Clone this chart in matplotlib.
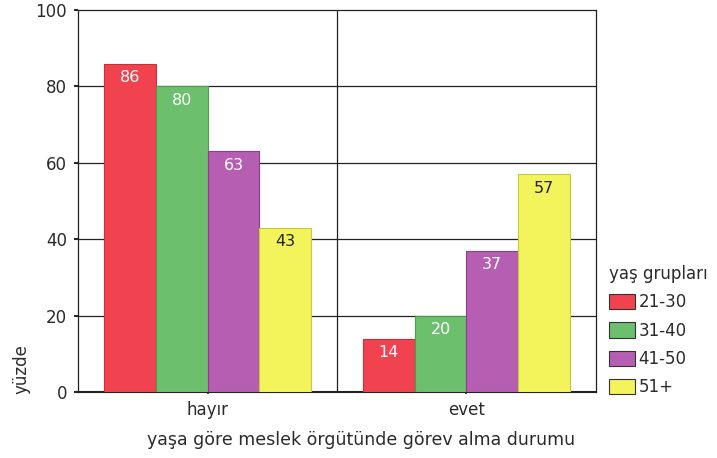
import numpy as np
import matplotlib
matplotlib.use('Agg')
import matplotlib.pyplot as plt

categories = ['hayır', 'evet']
groups = ['21-30', '31-40', '41-50', '51+']
values = {
    '21-30': [86, 14],
    '31-40': [80, 20],
    '41-50': [63, 37],
    '51+':   [43, 57],
}
yticks = [0, 20, 40, 60, 80, 100]

colors = ['#f0434f', '#6cbf6c', '#b65fb2', '#f3f35c']
edges = ['#c8303a', '#4f9a4f', '#8c3f88', '#c9c93a']
text_colors = ['white', 'white', 'white', '#222222']
ink = '#2a2a2a'

plt.rcParams['font.family'] = ['DejaVu Sans']
plt.rcParams['text.color'] = ink
plt.rcParams['xtick.color'] = ink
plt.rcParams['ytick.color'] = ink

fig = plt.figure(figsize=(7.17, 4.58), dpi=100)
ax = fig.add_axes([0.109, 0.144, 0.722, 0.834])

x = np.arange(len(categories))
width = 0.2
for i, g in enumerate(groups):
    off = (i - 1.5) * width
    bars = ax.bar(x + off, values[g], width, color=colors[i], edgecolor=edges[i],
                  linewidth=0.8, label=g, zorder=3)
    for b, v in zip(bars, values[g]):
        ax.annotate(f'{v}', (b.get_x() + b.get_width() / 2, v),
                    xytext=(0, -10), textcoords='offset points',
                    ha='center', va='center', fontsize=11.5,
                    color=text_colors[i], zorder=4)

ax.set_xlim(-0.5, 1.5)
ax.set_ylim(0, 100)
ax.set_yticks(yticks)
ax.set_xticks(x)
ax.set_xticklabels(categories, fontsize=12)
ax.tick_params(axis='y', labelsize=12, length=3, width=1.5, pad=5)
ax.tick_params(axis='x', length=3, width=1.2, direction='inout', pad=5)

for yv in yticks[1:-1]:
    ax.axhline(yv, color='#222222', lw=0.9, zorder=1)
ax.axvline(0.5, color='#222222', lw=0.9, zorder=1)
for s in ax.spines.values():
    s.set_color('#222222')
    s.set_linewidth(0.9)
ax.spines['bottom'].set_linewidth(1.5)

fig.text(0.503, 0.04, 'yaşa göre meslek örgütünde görev alma durumu',
         ha='center', va='center', fontsize=12.5)
ax.text(-0.11, 0.06, 'yüzde', transform=ax.transAxes, rotation=90,
        ha='center', va='center', fontsize=12)

leg = ax.legend(title='yaş grupları', loc='upper left', bbox_to_anchor=(1.012, 0.35),
                frameon=False, fontsize=12, title_fontsize=12,
                handlelength=1.55, handleheight=1.05, handletextpad=0.25,
                labelspacing=0.62, borderaxespad=0)
leg._legend_box.align = 'left'
for h in leg.legend_handles:
    h.set_edgecolor('#333333')

fig.savefig('out.png', dpi=100)
